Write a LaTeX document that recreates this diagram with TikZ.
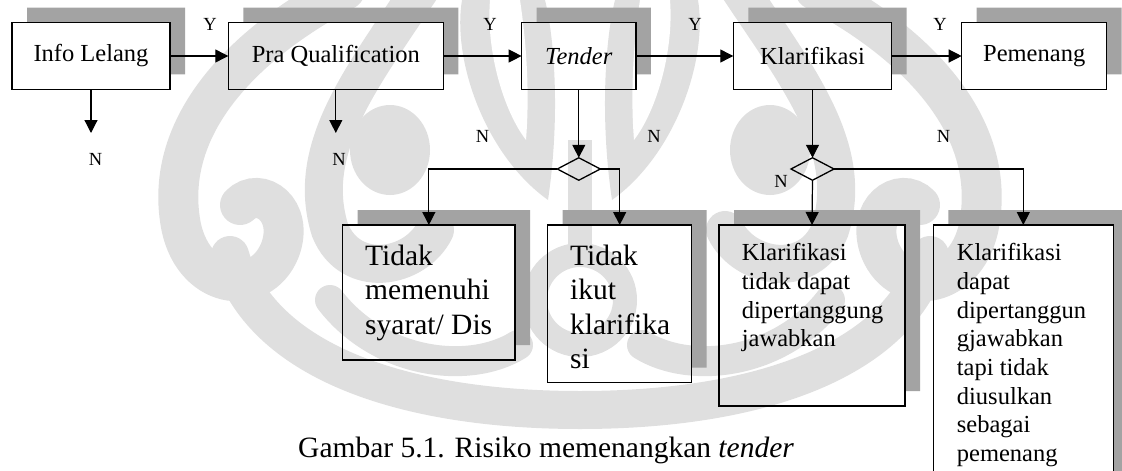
\documentclass[tikz,border=0pt]{standalone}
\usepackage{fontspec}
\setmainfont{Liberation Serif}
\usetikzlibrary{arrows.meta,shapes.geometric,calc}
\pgfdeclarelayer{wm}
\pgfdeclarelayer{bg}
\pgfsetlayers{wm,bg,main}
\definecolor{shadowc}{gray}{0.64}
\definecolor{wmc}{gray}{0.875}
\begin{document}
\begin{tikzpicture}[x=1pt,y=-1pt,
  box/.style={draw, rectangle, line width=1.3pt, inner sep=0pt, outer sep=0pt},
  arr/.style={line width=1.2pt, -{Triangle[length=13pt,width=13pt]}},
  lbl/.style={font=\fontsize{18.5}{20}\selectfont, inner sep=0pt},
  mid/.style={font=\fontsize{24.5}{28.7}\selectfont},
  big/.style={font=\fontsize{29.5}{34.5}\selectfont},
  txt/.style={inner sep=0pt, anchor=base west},
  dec/.style={diamond, draw, line width=1.3pt, aspect=1.9, minimum width=43pt,
              minimum height=22.5pt, inner sep=0pt, outer sep=0pt},
  band/.style={draw=wmc, line cap=round, fill=none}]
\useasboundingbox (0,0) rectangle (1122,471);
\clip (0,0) rectangle (1122,471);

% faint emblem in the background, mirrored about x = 580
\begin{pgfonlayer}{wm}
  \foreach \s in {1,-1}{
    \begin{scope}[shift={(580,0)}, xscale=\s]
      % outer curling wing
      \draw[band, line width=40pt] (-235,-10) .. controls (-330,40) and (-415,120) .. (-400,220)
        .. controls (-390,290) and (-320,300) .. (-300,250)
        .. controls (-285,210) and (-320,185) .. (-340,205);
      % inner wing
      \draw[band, line width=38pt] (-160,-10) .. controls (-220,80) and (-275,150) .. (-250,230)
        .. controls (-230,280) and (-165,270) .. (-145,230);
      \fill[wmc] (-190,150) ellipse[x radius=40, y radius=45];
      % upper lobe beside the axis
      \fill[wmc] (-118,0) .. controls (-128,60) and (-95,155) .. (-32,200)
        .. controls (-20,120) and (-25,40) .. (-35,0) -- cycle;
      \fill[white] (-90,0) .. controls (-94,50) and (-77,110) .. (-54,140)
        .. controls (-50,90) and (-54,40) .. (-60,0) -- cycle;
      % lower jaw
      \draw[band, line width=38pt] (-350,255) .. controls (-320,360) and (-180,410) .. (0,410);
      \draw[band, line width=30pt] (-250,300) .. controls (-200,365) and (-110,375) .. (-62,345);
    \end{scope}
  }
  \draw[draw=wmc, line width=24pt] (580,300) circle[radius=45];
  \draw[draw=wmc, line width=24pt] (580,140) -- (580,245);
\end{pgfonlayer}

% main flow
\node[box, mid, minimum width=158pt,   minimum height=66.7pt] (info)   at (91,56)      {Info Lelang};
\node[box, mid, minimum width=215pt,   minimum height=66.7pt] (pra)    at (335.8,56)   {Pra Qualification};
\node[box, mid, minimum width=114.3pt, minimum height=66.7pt] (tender) at (578.8,56)   {\itshape Tender};
\node[box, mid, minimum width=158.4pt, minimum height=66.7pt] (klar)   at (812.5,56)   {Klarifikasi};
\node[box, mid, minimum width=145pt,   minimum height=66.7pt] (pem)    at (1034.2,56)  {Pemenang};

% decisions
\node[dec] (d1) at (578.8,169) {};
\node[dec] (d2) at (812.5,169) {};

% outcome boxes
\node[box, minimum width=172.3pt, minimum height=135pt]   (b1) at (428.85,292.5) {};
\node[box, minimum width=144pt,   minimum height=157.7pt] (b2) at (619.7,303.85) {};
\node[box, minimum width=186pt,   minimum height=181pt]   (b3) at (812,315.5)    {};
\node[box, minimum width=180pt,   minimum height=270pt]   (b4) at (1023.3,360)   {};

\node[txt, big] (t1) at (365,265)
  {\parbox[t]{150pt}{Tidak\\memenuhi\\syarat/ Dis}};
\node[txt, big] (t2) at (570,265)
  {\parbox[t]{120pt}{Tidak\\ikut\\klarifika\\si}};
\node[txt, mid] (t3) at (741.7,260.7)
  {\parbox[t]{160pt}{Klarifikasi\\tidak dapat\\dipertanggung\\jawabkan}};
\node[txt, mid] (t4) at (956.7,260.7)
  {\parbox[t]{150pt}{Klarifikasi\\dapat\\dipertanggun\\gjawabkan\\tapi tidak\\diusulkan\\sebagai\\pemenang}};

% drop shadows (top and right strips behind each box)
\begin{pgfonlayer}{bg}
  \foreach \n in {info,pra,tender,klar,pem,b1,b2,b3,b4}{
    \fill[shadowc] ($(\n.north west)+(15,-15)$) -- ($(\n.north east)+(15,-15)$)
      -- ($(\n.south east)+(15,-15)$) -- ($(\n.south east)+(0,-15)$)
      -- (\n.north east) -- ($(\n.north west)+(15,0)$) -- cycle;
  }
\end{pgfonlayer}

% free ends of the rejection arrows
\coordinate (e1) at (91,133);
\coordinate (e2) at (335.8,133);

% connectors
\draw[arr] (info) -- (pra);
\draw[arr] (pra) -- (tender);
\draw[arr] (tender) -- (klar);
\draw[arr] (klar) -- (pem);
\draw[arr] (info.south) -- (e1);
\draw[arr] (pra.south) -- (e2);
\draw[arr] (tender.south) -- (d1.north);
\draw[arr] (klar.south) -- (d2.north);
\draw[arr] (d1.west) -| (b1.north);
\draw[arr] (d1.east) -| (b2.north);
\draw[arr] (d2.south) -- (b3.north);
\draw[arr] (d2.east) -| (b4.north);

% branch labels
\node[lbl] (y1) at (210,24) {Y};
\node[lbl] (y2) at (490,24) {Y};
\node[lbl] (y3) at (695,24) {Y};
\node[lbl] (y4) at (940,24) {Y};
\node[lbl] (n1) at (95.5,159) {N};
\node[lbl] (n2) at (339,159) {N};
\node[lbl] (n3) at (482.5,136) {N};
\node[lbl] (n4) at (654,136) {N};
\node[lbl] (n5) at (943.5,136) {N};
\node[lbl] (n6) at (781,181) {N};

% caption
\node[txt, big] (cap) at (298,457) {Gambar 5.1. Risiko memenangkan \textit{tender}};
\end{tikzpicture}
\end{document}
